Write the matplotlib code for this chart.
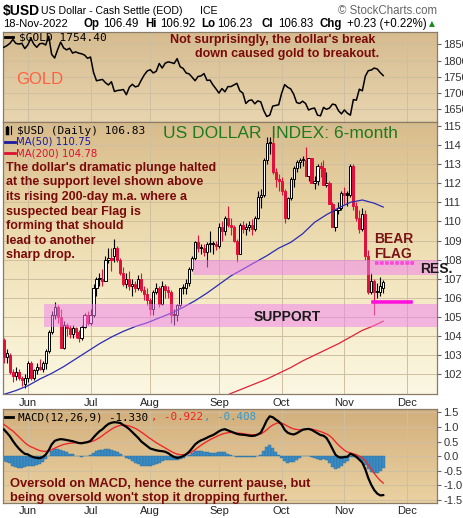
import numpy as np
import matplotlib.pyplot as plt
from matplotlib.colors import LinearSegmentedColormap
from matplotlib.lines import Line2D

plt.rcParams['font.family'] = ['Liberation Sans', 'DejaVu Sans']

# ---- data (bar 0 = 19-May-2022 ... bar 127 = 18-Nov-2022) ----
month_labels = ['Jun', 'Jul', 'Aug', 'Sep', 'Oct', 'Nov', 'Dec']
month_bars = [8, 29, 49, 72, 93, 114, 135]

open_ = [103.8, 102.9, 103.0, 102.1, 101.9, 102.1, 101.8, 101.5,
         101.8, 102.6, 101.8, 102.2, 102.4, 102.3, 102.6, 103.2,
         104.2, 105.1, 105.5, 105.0, 103.4, 104.6, 104.4, 104.1,
         104.4, 104.2, 103.9, 104.5, 105.1, 104.7, 105.1, 106.5,
         107.0, 107.0, 106.9, 108.0, 108.1, 108.2, 108.6, 108.0,
         107.3, 106.7, 107.0, 106.6, 106.7, 106.5, 107.0, 106.4,
         106.2, 105.9, 105.4, 106.3, 106.5, 105.7, 106.6, 106.4,
         106.3, 105.1, 105.1, 105.6, 106.5, 106.5, 106.8, 107.5,
         108.1, 108.9, 108.6, 108.6, 108.4, 108.8, 108.8, 108.8,
         108.7, 109.7, 109.5, 110.2, 109.8, 109.7, 109.0, 108.3,
         109.8, 109.6, 109.7, 109.8, 109.6, 110.2, 111.3, 111.4,
         113.2, 114.1, 114.1, 112.6, 112.2, 112.1, 111.6, 110.2,
         111.2, 112.2, 112.8, 113.1, 113.2, 113.2, 112.4, 113.3,
         112.0, 112.1, 112.9, 112.8, 111.9, 112.0, 110.9, 109.7,
         110.6, 110.7, 111.5, 111.4, 111.4, 112.9, 110.8, 110.2,
         109.6, 110.4, 108.2, 106.3, 106.9, 106.3, 106.3, 106.49]
high = [103.9, 103.3, 103.1, 102.3, 102.4, 102.3, 101.9, 102.0,
        102.7, 102.7, 102.3, 102.6, 102.8, 102.7, 103.3, 104.3,
        105.3, 105.8, 105.6, 105.4, 104.8, 104.7, 104.6, 104.6,
        104.5, 104.3, 104.6, 105.2, 105.3, 105.4, 106.7, 107.1,
        107.3, 107.5, 108.2, 108.6, 108.6, 109.1, 108.7, 108.1,
        107.6, 107.3, 107.4, 107.0, 106.9, 107.2, 107.3, 106.6,
        106.5, 106.0, 106.4, 106.8, 106.6, 106.9, 106.7, 106.6,
        106.4, 105.4, 105.7, 106.5, 106.7, 107.0, 107.6, 108.2,
        109.0, 109.3, 108.8, 108.8, 108.9, 109.5, 109.0, 109.0,
        109.9, 110.0, 110.3, 110.8, 110.2, 109.8, 109.1, 109.9,
        110.0, 109.9, 110.0, 110.1, 110.3, 111.6, 111.7, 113.3,
        114.4, 114.4, 114.6, 112.8, 112.5, 112.3, 111.7, 111.3,
        112.3, 112.9, 113.2, 113.3, 113.4, 113.9, 113.3, 113.3,
        112.4, 113.0, 113.1, 113.2, 112.6, 112.1, 111.0, 110.6,
        111.0, 111.6, 111.8, 111.6, 113.0, 113.0, 111.0, 110.6,
        110.7, 110.6, 108.5, 107.3, 107.0, 106.8, 107.1, 106.92]
low = [102.6, 102.6, 102.0, 101.6, 101.7, 101.7, 101.4, 101.3,
       101.6, 101.7, 101.7, 102.0, 102.2, 102.1, 102.3, 103.1,
       104.1, 104.9, 104.7, 103.4, 103.3, 104.0, 103.9, 103.9,
       103.9, 103.7, 103.8, 104.4, 104.6, 104.6, 105.0, 106.1,
       106.6, 106.6, 106.9, 107.8, 107.4, 107.9, 107.9, 107.2,
       106.6, 106.5, 106.4, 106.1, 106.3, 106.4, 106.3, 105.9,
       105.6, 105.1, 105.1, 106.2, 105.5, 105.6, 106.0, 106.0,
       104.7, 104.6, 104.8, 105.5, 106.2, 106.2, 106.6, 107.4,
       108.0, 108.4, 108.3, 108.2, 107.6, 108.4, 108.3, 108.5,
       108.6, 109.0, 109.3, 109.7, 109.3, 108.9, 107.9, 108.3,
       109.4, 109.3, 109.5, 109.3, 109.5, 110.1, 110.7, 111.3,
       113.0, 113.5, 112.5, 111.8, 111.6, 111.4, 109.9, 110.1,
       111.1, 111.8, 112.6, 112.8, 112.9, 112.4, 112.1, 112.0,
       111.7, 111.9, 112.3, 111.9, 111.8, 110.9, 109.7, 109.5,
       110.4, 110.6, 110.9, 110.8, 111.3, 110.6, 110.0, 109.4,
       109.5, 108.0, 106.2, 106.2, 105.1, 106.0, 106.1, 106.23]
close = [102.9, 103.1, 102.1, 101.9, 102.1, 101.8, 101.7, 101.8,
         102.6, 101.8, 102.2, 102.4, 102.3, 102.6, 103.2, 104.2,
         105.1, 105.5, 105.0, 103.4, 104.6, 104.4, 104.1, 104.4,
         104.2, 103.9, 104.5, 105.1, 104.7, 105.1, 106.5, 107.0,
         107.0, 106.9, 108.0, 108.1, 108.0, 108.6, 108.0, 107.3,
         106.7, 107.0, 106.6, 106.7, 106.5, 107.0, 106.4, 106.2,
         105.9, 105.4, 106.3, 106.5, 105.7, 106.6, 106.4, 106.3,
         105.1, 105.1, 105.6, 106.5, 106.5, 106.8, 107.5, 108.1,
         108.9, 108.6, 108.6, 108.4, 108.8, 108.8, 108.8, 108.7,
         109.7, 109.5, 110.2, 109.8, 109.7, 109.0, 108.3, 109.8,
         109.6, 109.7, 109.8, 109.6, 110.2, 111.3, 111.4, 113.2,
         114.1, 114.1, 112.6, 112.2, 112.1, 111.6, 110.2, 111.2,
         112.2, 112.8, 113.1, 113.2, 113.2, 112.4, 113.3, 112.0,
         112.1, 112.9, 112.8, 111.9, 112.0, 110.9, 109.7, 110.6,
         110.7, 111.5, 111.4, 111.4, 112.9, 110.8, 110.2, 109.6,
         110.4, 108.2, 106.3, 106.9, 106.3, 106.3, 106.6, 106.83]

ma50_bars = [0, 4, 8, 12, 16, 20, 24, 28, 32, 36, 40, 44, 48, 52, 56, 60, 64,
             68, 72, 76, 80, 84, 88, 92, 96, 100, 104, 108, 112, 116, 120, 124, 127]
ma50 = [100.95, 101.15, 101.4, 101.75, 102.05, 102.4, 102.8, 103.2, 103.6,
        103.95, 104.25, 104.5, 104.7, 104.95, 105.2, 105.5, 105.85, 106.25,
        106.7, 107.15, 107.5, 107.85, 108.2, 108.6, 108.9, 109.35, 109.95,
        110.35, 110.7, 111.0, 111.12, 110.95, 110.75]
ma200_bars = [74, 76, 80, 84, 88, 92, 96, 100, 104, 108, 112, 116, 120, 124, 127]
ma200 = [100.85, 101.0, 101.25, 101.5, 101.75, 102.05, 102.35, 102.7, 103.0,
         103.3, 103.6, 103.95, 104.3, 104.55, 104.78]

gold = [1841, 1846, 1853, 1865, 1853, 1851, 1853, 1837,
        1848, 1869, 1851, 1841, 1852, 1853, 1848, 1875,
        1819, 1808, 1834, 1857, 1839, 1833, 1838, 1823,
        1827, 1823, 1821, 1817, 1807, 1811, 1764, 1738,
        1740, 1742, 1732, 1725, 1735, 1705, 1708, 1709,
        1711, 1695, 1718, 1727, 1719, 1722, 1740, 1756,
        1768, 1772, 1762, 1767, 1791, 1777, 1792, 1796,
        1794, 1791, 1806, 1781, 1776, 1762, 1759, 1749,
        1738, 1751, 1753, 1760, 1739, 1740, 1725, 1713,
        1700, 1714, 1704, 1720, 1720, 1725, 1730, 1707,
        1700, 1668, 1677, 1679, 1667, 1676, 1673, 1646,
        1628, 1632, 1660, 1662, 1664, 1700, 1726, 1718,
        1713, 1697, 1671, 1668, 1675, 1668, 1648, 1652,
        1654, 1632, 1630, 1656, 1650, 1654, 1666, 1664,
        1646, 1636, 1648, 1638, 1632, 1680, 1678, 1712,
        1707, 1752, 1769, 1771, 1777, 1774, 1763, 1754]

macd = [0.91, 0.80, 0.68, 0.52, 0.38, 0.26, 0.16, 0.08,
        0.06, 0.00, -0.04, -0.06, -0.07, -0.03, 0.05, 0.20,
        0.40, 0.52, 0.56, 0.58, 0.57, 0.55, 0.53, 0.51,
        0.48, 0.45, 0.44, 0.46, 0.48, 0.52, 0.64, 0.75,
        0.85, 0.92, 1.02, 1.10, 1.14, 1.16, 1.15, 1.13,
        1.06, 1.00, 0.92, 0.82, 0.72, 0.62, 0.50, 0.42,
        0.34, 0.26, 0.23, 0.20, 0.18, 0.17, 0.15, 0.10,
        0.03, -0.03, -0.06, -0.04, 0.00, 0.06, 0.15, 0.27,
        0.40, 0.48, 0.54, 0.58, 0.63, 0.68, 0.72, 0.78,
        0.85, 0.90, 0.92, 0.88, 0.84, 0.80, 0.76, 0.74,
        0.73, 0.72, 0.70, 0.69, 0.70, 0.74, 0.80, 1.00,
        1.22, 1.36, 1.33, 1.25, 1.18, 1.08, 0.90, 0.80,
        0.76, 0.74, 0.78, 0.84, 0.90, 0.92, 0.93, 0.90,
        0.84, 0.78, 0.72, 0.70, 0.62, 0.45, 0.25, 0.05,
        -0.03, -0.05, -0.03, -0.02, 0.08, 0.04, -0.02, -0.12,
        -0.22, -0.45, -0.75, -0.98, -1.16, -1.28, -1.34, -1.33]
signal = [1.08, 1.01, 0.93, 0.86, 0.76, 0.66, 0.56, 0.46,
          0.38, 0.32, 0.28, 0.23, 0.19, 0.17, 0.16, 0.18,
          0.22, 0.27, 0.32, 0.36, 0.40, 0.42, 0.44, 0.45,
          0.46, 0.46, 0.46, 0.46, 0.47, 0.49, 0.52, 0.57,
          0.63, 0.70, 0.78, 0.85, 0.92, 0.98, 1.02, 1.05,
          1.06, 1.05, 1.03, 0.99, 0.95, 0.89, 0.82, 0.75,
          0.67, 0.60, 0.53, 0.46, 0.40, 0.34, 0.28, 0.22,
          0.16, 0.11, 0.07, 0.05, 0.05, 0.07, 0.10, 0.15,
          0.22, 0.30, 0.37, 0.44, 0.50, 0.56, 0.61, 0.66,
          0.71, 0.75, 0.78, 0.80, 0.81, 0.80, 0.79, 0.78,
          0.77, 0.75, 0.74, 0.73, 0.73, 0.74, 0.76, 0.82,
          0.90, 0.99, 1.06, 1.11, 1.14, 1.13, 1.08, 1.02,
          0.97, 0.93, 0.91, 0.90, 0.91, 0.92, 0.92, 0.92,
          0.90, 0.87, 0.84, 0.80, 0.76, 0.70, 0.61, 0.49,
          0.38, 0.29, 0.20, 0.14, 0.11, 0.08, 0.05, 0.00,
          -0.06, -0.16, -0.30, -0.44, -0.59, -0.72, -0.83, -0.92]

support_band = (104.5, 105.7)
support_from = 13.5
res_band = (107.2, 108.0)
res_from = 63.3
flag_top, flag_top_bars = 107.8, (124.4, 137.4)
flag_bot, flag_bot_bars = 105.8, (123.7, 136.4)

# ---- figure ----
W, H = 464, 518
fig = plt.figure(figsize=(W / 100, H / 100), dpi=100)
fig.patch.set_facecolor('white')


def px_axes(x0, y0, x1, y1):
    return fig.add_axes([x0 / W, 1 - y1 / H, (x1 - x0) / W, (y1 - y0) / H])


def ftext(x, y, s, **kw):
    kw.setdefault('va', 'baseline')
    return fig.text(x / W, 1 - y / H, s, **kw)


def backdrop(ax, colors):
    cmap = LinearSegmentedColormap.from_list('bg', colors)
    grad = np.linspace(1, 0, 256).reshape(-1, 1)
    ax.imshow(grad, cmap=cmap, aspect='auto', extent=(0, 1, 0, 1),
              transform=ax.transAxes, zorder=0, interpolation='bilinear')


ax_g = px_axes(3, 32, 437, 122)
ax_p = px_axes(3, 122, 437, 394)
ax_m = px_axes(3, 409, 437, 503)

backdrop(ax_g, ['#e8d5b0', '#d6bb8f'])
backdrop(ax_p, ['#fbf7e2', '#f5eac6', '#e9d6a8', '#d8bb8b'])
backdrop(ax_m, ['#ebd2a2', '#d2af7c'])

xlim = (-0.3, 145)
idx = np.arange(len(close))
grid_c = '#cdbfa0'

for ax in (ax_g, ax_p, ax_m):
    ax.set_xlim(*xlim)
    ax.set_xticks(month_bars)
    ax.yaxis.tick_right()
    ax.tick_params(axis='y', length=3, width=0.8, color='#666666', pad=1.5,
                   labelsize=8, labelcolor='#333333')
    ax.tick_params(axis='x', length=0, labelsize=8, labelcolor='#222222')
    ax.grid(True, color=grid_c, lw=0.7, zorder=1)
    ax.set_axisbelow(True)
    for s in ax.spines.values():
        s.set_color('#8a7c68')
        s.set_linewidth(0.9)

# gold panel
ax_g.plot(idx, gold, color='black', lw=1.1, zorder=3)
ax_g.set_ylim(1611, 1888)
ax_g.set_yticks([1650, 1700, 1750, 1800, 1850])
ax_g.set_xticklabels([])

# price panel
o = np.array(open_); h = np.array(high); l = np.array(low); c = np.array(close)
prev_c = np.r_[np.inf, c[:-1]]
col = np.where(c >= prev_c, 'black', '#e0103a')
face = np.where(c > o, 'white', col)
ax_p.vlines(idx, l, h, colors=col, lw=0.8, zorder=3)
ax_p.bar(idx, np.maximum(np.abs(c - o), 0.06), bottom=np.minimum(o, c), width=0.72,
         color=face, edgecolor=col, lw=0.7, zorder=4)
ax_p.plot(ma50_bars, ma50, color='#2a2ab4', lw=0.9, zorder=5)
ax_p.plot(ma200_bars, ma200, color='#e0203a', lw=0.9, zorder=5)

band_c = '#f07ef0'
ax_p.fill_between([support_from, xlim[1]], *support_band, color=band_c, alpha=0.5,
                  lw=0, zorder=6)
ax_p.fill_between([res_from, xlim[1]], *res_band, color=band_c, alpha=0.5,
                  lw=0, zorder=6)
ax_p.plot(flag_top_bars, [flag_top, flag_top], color='#ff44dd', lw=2.6,
          ls=(0, (1, 0.4)), zorder=7)
ax_p.plot(flag_bot_bars, [flag_bot, flag_bot], color='#ff10dd', lw=2.6, zorder=7)
ax_p.set_ylim(100.97, 115.2)
ax_p.set_yticks(range(102, 116))
ax_p.set_xticklabels(month_labels)
ax_p.tick_params(axis='x', pad=3)

# macd panel
hist = np.array(macd) - np.array(signal)
ax_m.bar(idx, hist, width=1.0, color='#3b8cc3', edgecolor='#2a6c9c', lw=0.3, zorder=2)
ax_m.plot(idx, signal, color='#ee2a2a', lw=1.0, zorder=3)
ax_m.plot(idx, macd, color='black', lw=1.6, zorder=4)
ax_m.set_ylim(-1.6, 1.61)
ax_m.set_yticks([-1.5, -1.0, -0.5, 0.0, 0.5, 1.0, 1.5])
ax_m.set_yticklabels(['-1.5', '-1.0', '-0.5', '0.0', '0.5', '1.0', '1.5'])
ax_m.set_xticklabels(month_labels)
ax_m.tick_params(axis='x', pad=2)

# ---- header ----
ftext(3, 15, '$USD', fontsize=10, weight='bold')
ftext(41, 14.5, 'US Dollar - Cash Settle (EOD)', fontsize=7.6)
ftext(200, 14.5, 'ICE', fontsize=7.6)
ftext(437, 14, '\u00a9 StockCharts.com', fontsize=8.3, color='#666666', ha='right')
ftext(3, 27, '18-Nov-2022', fontsize=8)
for x, s, b in [(83, 'Op', True), (103, '106.49', False), (145, 'Hi', True),
                (160, '106.92', False), (201, 'Lo', True), (217, '106.23', False),
                (262, 'Cl', True), (278, '106.83', False), (320, 'Chg', True),
                (347, '+0.23 (+0.22%)', False)]:
    ftext(x, 27, s, fontsize=8.3, weight='bold' if b else 'normal')
ftext(429, 26, '\u25b2', fontsize=5.5, color='#1a8a1a', family='DejaVu Sans')

# ---- panel legends ----
mono = 'DejaVu Sans Mono'
fig.add_artist(Line2D([5 / W, 13 / W], [1 - 37 / H] * 2, color='black', lw=2))
ftext(19, 40, '$GOLD 1754.40', fontsize=8, family=mono)
ftext(16, 84, 'GOLD', fontsize=12, color='#ff6040')
ftext(170, 43, "Not surprisingly, the dollar's break", fontsize=9, weight='bold',
      color='#7a0a0a')
ftext(195, 57, 'down caused gold to breakout.', fontsize=9, weight='bold',
      color='#7a0a0a')

fig.add_artist(Line2D([7 / W, 7 / W], [1 - 134 / H, 1 - 126 / H], color='black', lw=0.8))
fig.add_artist(Line2D([11 / W, 11 / W], [1 - 134 / H, 1 - 126 / H], color='black', lw=0.8))
fig.add_artist(Line2D([7 / W, 7 / W], [1 - 133 / H, 1 - 128 / H], color='black', lw=2.5))
ftext(17, 134, '$USD (Daily) 106.83', fontsize=8, family=mono)
fig.add_artist(Line2D([5 / W, 15 / W], [1 - 142 / H] * 2, color='#1a1aa0', lw=2))
ftext(16, 145, 'MA(50) 110.75', fontsize=7.3, color='#1a1aa0', family='DejaVu Sans')
fig.add_artist(Line2D([5 / W, 15 / W], [1 - 153 / H] * 2, color='#dd1133', lw=2))
ftext(16, 156, 'MA(200) 104.78', fontsize=7.3, color='#dd1133', family='DejaVu Sans')
ftext(163, 138, 'US DOLLAR  INDEX: 6-month', fontsize=12.5, color='#1e7a1e')

note = ["The dollar's dramatic plunge halted", 'at the support level shown above',
        'its rising 200-day m.a. where a', 'suspected bear Flag is',
        'forming that should', 'lead to another', 'sharp drop.']
for k, line in enumerate(note):
    ftext(6, 170.7 + 14.6 * k, line, fontsize=9, weight='bold', color='#7a0a0a')

ftext(374, 243, 'BEAR', fontsize=10, weight='bold', color='#7a1414')
ftext(374, 257.5, 'FLAG', fontsize=10, weight='bold', color='#7a1414')
ftext(420, 273, 'RES.', fontsize=10, weight='bold', color='#1a1a1a')
ftext(254, 321, 'SUPPORT', fontsize=10, weight='bold', color='#1a1a1a')

fig.add_artist(Line2D([5 / W, 13 / W], [1 - 417 / H] * 2, color='black', lw=2))
ftext(18, 420, 'MACD(12,26,9) -1.330', fontsize=7.8, family=mono)
ftext(151, 420, ', -0.922', fontsize=7.8, family=mono, color='#ee2222')
ftext(204, 420, ', -0.408', fontsize=7.8, family=mono, color='#3399cc')
ftext(10, 486.5, 'Oversold on MACD, hence the current pause, but', fontsize=9.3,
      weight='bold', color='#7a0a0a')
ftext(10, 500.5, "being oversold won't stop it dropping further.", fontsize=9.3,
      weight='bold', color='#7a0a0a')

fig.savefig('out.png', dpi=100)
